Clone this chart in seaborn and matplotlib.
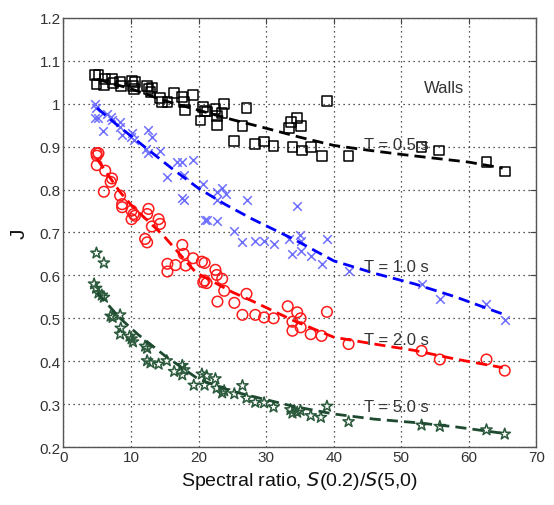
import numpy as np
import pandas as pd
import matplotlib
matplotlib.use("Agg")
import matplotlib.pyplot as plt
import seaborn as sns

# ---------------- data ----------------
walls_x = [4.7, 5.2, 4.9, 6.0, 6.2, 7.2, 7.3, 8.4, 8.5, 10.1, 10.3, 10.5, 10.6, 12.4, 12.6, 12.9, 13.1,
           14.3, 14.6, 15.4, 16.4, 17.6, 17.8, 18.0, 19.2, 20.3, 20.7, 20.9, 21.3, 22.5, 22.7, 22.7, 23.5,
           23.8, 25.3, 26.5, 27.1, 28.4, 29.7, 31.1, 33.4, 33.7, 33.9, 34.6, 35.2, 35.3, 36.6, 38.3, 39.0,
           42.2, 53.0, 55.6, 62.6, 65.3]
walls_y = [1.067, 1.067, 1.046, 1.044, 1.058, 1.058, 1.048, 1.052, 1.042, 1.054, 1.042, 1.034, 1.05,
           1.042, 1.034, 1.027, 1.038, 1.013, 1.004, 1.004, 1.025, 1.015, 1.004, 0.986, 1.02, 0.961, 0.992,
           0.984, 0.982, 0.988, 0.972, 0.951, 0.978, 1.0, 0.914, 0.949, 0.99, 0.906, 0.912, 0.902, 0.943,
           0.958, 0.899, 0.966, 0.948, 0.891, 0.899, 0.879, 1.006, 0.879, 0.899, 0.891, 0.865, 0.842]

t10_x = [4.7, 4.9, 4.7, 5.2, 6.4, 7.0, 5.9, 7.2, 8.4, 8.7, 8.4, 10.1, 10.4, 10.0, 12.6, 13.1, 12.3, 14.3,
         12.6, 16.8, 17.6, 19.2, 15.4, 17.9, 20.7, 22.8, 23.5, 24.0, 22.8, 17.6, 17.8, 27.1, 20.9, 21.2,
         22.7, 25.3, 26.5, 28.4, 29.7, 31.1, 33.4, 35.0, 35.1, 39.0, 34.6, 33.9, 35.1, 36.6, 38.3, 42.2,
         53.0, 55.7, 62.6, 65.3]
t10_y = [0.999, 0.99, 0.967, 0.967, 0.976, 0.969, 0.936, 0.962, 0.957, 0.928, 0.945, 0.931, 0.916, 0.922,
         0.939, 0.922, 0.895, 0.891, 0.885, 0.864, 0.864, 0.869, 0.830, 0.835, 0.813, 0.794, 0.803, 0.790,
         0.776, 0.780, 0.776, 0.776, 0.729, 0.729, 0.727, 0.704, 0.677, 0.681, 0.681, 0.673, 0.685, 0.694,
         0.681, 0.685, 0.762, 0.650, 0.658, 0.646, 0.627, 0.611, 0.580, 0.545, 0.533, 0.497]

t20_x = [4.9, 5.2, 4.95, 4.95, 6.2, 7.2, 7.0, 6.0, 8.4, 8.7, 8.7, 10.1, 10.4, 10.1, 10.6, 12.6, 12.4, 14.1,
         14.3, 13.1, 12.1, 12.4, 17.6, 17.8, 19.2, 20.5, 20.9, 15.4, 16.6, 15.4, 18.1, 20.9, 20.7, 21.2,
         22.5, 22.7, 23.5, 23.8, 27.1, 22.8, 25.3, 26.5, 28.4, 29.7, 31.1, 33.2, 34.6, 35.1, 33.9, 33.9,
         35.1, 36.6, 38.2, 39.0, 42.2, 53.0, 55.7, 62.6, 65.3]
t20_y = [0.885, 0.885, 0.879, 0.857, 0.844, 0.826, 0.818, 0.795, 0.786, 0.766, 0.759, 0.751, 0.743, 0.731,
         0.739, 0.755, 0.743, 0.731, 0.720, 0.714, 0.685, 0.677, 0.671, 0.650, 0.640, 0.632, 0.629, 0.627,
         0.624, 0.609, 0.623, 0.588, 0.584, 0.582, 0.613, 0.601, 0.592, 0.564, 0.557, 0.539, 0.536, 0.508,
         0.508, 0.502, 0.500, 0.528, 0.514, 0.500, 0.492, 0.471, 0.479, 0.463, 0.459, 0.515, 0.440, 0.424,
         0.404, 0.404, 0.378]

t50_x = [4.9, 6.0, 4.55, 4.85, 5.2, 6.0, 5.7, 7.0, 7.3, 8.4, 8.5, 8.4, 9.8, 10.1, 10.3, 12.1, 12.4, 12.4,
         12.9, 14.1, 15.3, 16.4, 17.6, 17.6, 17.9, 19.3, 20.5, 20.9, 21.2, 22.5, 22.7, 23.5, 23.8, 25.3,
         26.5, 27.1, 28.4, 29.7, 31.1, 33.6, 33.9, 34.6, 35.1, 36.6, 38.1, 39.0, 42.2, 53.0, 55.7, 62.6, 65.3]
t50_y = [0.652, 0.629, 0.580, 0.570, 0.559, 0.549, 0.554, 0.505, 0.502, 0.508, 0.477, 0.463, 0.458, 0.452,
         0.445, 0.435, 0.430, 0.401, 0.396, 0.393, 0.401, 0.376, 0.390, 0.368, 0.380, 0.344, 0.370, 0.344,
         0.366, 0.359, 0.337, 0.326, 0.331, 0.324, 0.343, 0.314, 0.304, 0.303, 0.293, 0.287, 0.279, 0.281,
         0.285, 0.273, 0.269, 0.295, 0.259, 0.251, 0.248, 0.240, 0.230]

# fitted curves
walls_fit_x = [5, 10, 15, 20, 25, 30, 35, 40, 45, 50, 55, 60, 65]
walls_fit_y = [1.057, 1.035, 1.007, 0.985, 0.963, 0.943, 0.922, 0.903, 0.892, 0.882, 0.873, 0.864, 0.850]
t10_fit_x = [5, 8, 12.4, 16, 20, 24, 28, 34, 40, 46, 52, 58, 65]
t10_fit_y = [0.99, 0.95, 0.895, 0.85, 0.803, 0.765, 0.731, 0.685, 0.634, 0.605, 0.58, 0.55, 0.51]
t20_fit_x = [5, 8.4, 10.1, 14.8, 19.6, 25, 28, 34, 40, 46, 52, 58, 65]
t20_fit_y = [0.871, 0.794, 0.763, 0.693, 0.607, 0.561, 0.54, 0.495, 0.456, 0.44, 0.425, 0.405, 0.385]
t50_fit_x = [5, 8.4, 11, 15, 20, 25, 28, 34, 40, 46, 52, 58, 65]
t50_fit_y = [0.56, 0.50, 0.463, 0.413, 0.358, 0.33, 0.318, 0.295, 0.277, 0.265, 0.257, 0.247, 0.232]

x_ticks = [0, 10, 20, 30, 40, 50, 60, 70]
y_ticks = [0.2, 0.3, 0.4, 0.5, 0.6, 0.7, 0.8, 0.9, 1.0, 1.1, 1.2]
y_tick_labels = ["0.2", "0.3", "0.4", "0.5", "0.6", "0.7", "0.8", "0.9", "1", "1.1", "1.2"]

labels = ["Walls", "T = 0.5 s", "T = 1.0 s", "T = 2.0 s", "T = 5.0 s"]
label_x = [56.3, 44.5, 44.5, 44.5, 44.5]
label_y = [1.039, 0.904, 0.621, 0.451, 0.294]

# ---------------- style ----------------
sns.set_theme(style="white")
plt.rcParams['font.family'] = ['Liberation Sans', 'DejaVu Sans']

fig = plt.figure(figsize=(5.54, 5.06), dpi=100)
ax = fig.add_axes([0.1143, 0.1146, 0.8541, 0.8479])

dash = (4, 2.2)

series = [
    (walls_x, walls_y, walls_fit_x, walls_fit_y, 's', 'none', '#000000', '#000000', 50),
    (t10_x, t10_y, t10_fit_x, t10_fit_y, 'x', None, '#6e6eff', '#0000ff', 38),
    (t20_x, t20_y, t20_fit_x, t20_fit_y, 'o', 'none', '#ff1a1a', '#ff0000', 58),
    (t50_x, t50_y, t50_fit_x, t50_fit_y, '*', 'none', '#2b5a3c', '#1e4a30', 72),
]

for xs, ys, fx, fy, mk, fc, mc, lc, sz in series:
    df = pd.DataFrame({"x": xs, "y": ys})
    if fc == 'none':
        sns.scatterplot(data=df, x="x", y="y", ax=ax, marker=mk, s=sz,
                        facecolor='none', edgecolor=mc, linewidth=1.1, zorder=3)
    else:
        sns.scatterplot(data=df, x="x", y="y", ax=ax, marker=mk, s=sz,
                        color=mc, linewidth=1.1, zorder=3)
    dfl = pd.DataFrame({"x": fx, "y": fy})
    sns.lineplot(data=dfl, x="x", y="y", ax=ax, sort=False, estimator=None,
                 color=lc, linewidth=2.0, dashes=False, zorder=4)
    ax.lines[-1].set_dashes(dash)

for t, tx, ty in zip(labels, label_x, label_y):
    ax.text(tx, ty, t, fontsize=12, color='#333333', ha='left' if t != "Walls" else 'center',
            va='center', zorder=5)

ax.set_xlim(0, 70)
ax.set_ylim(0.2, 1.2)
ax.set_xticks(x_ticks)
ax.set_yticks(y_ticks)
ax.set_yticklabels(y_tick_labels)
ax.grid(True, linestyle=(0, (1, 3)), color='#222222', linewidth=0.9)
ax.tick_params(direction='in', length=4, width=0.8, top=True, right=True,
               labelsize=11, colors='#444444', labelcolor='#333333', pad=2)
for s in ax.spines.values():
    s.set_color('#555555')
    s.set_linewidth(1.0)

ax.set_xlabel("Spectral ratio, $\\mathit{S}$(0.2)/$\\mathit{S}$(5,0)", fontsize=14, color='#111111', labelpad=4)
ax.set_ylabel("J", fontsize=15, color='#111111', labelpad=8, rotation=90)

fig.savefig("out.png", dpi=100)
